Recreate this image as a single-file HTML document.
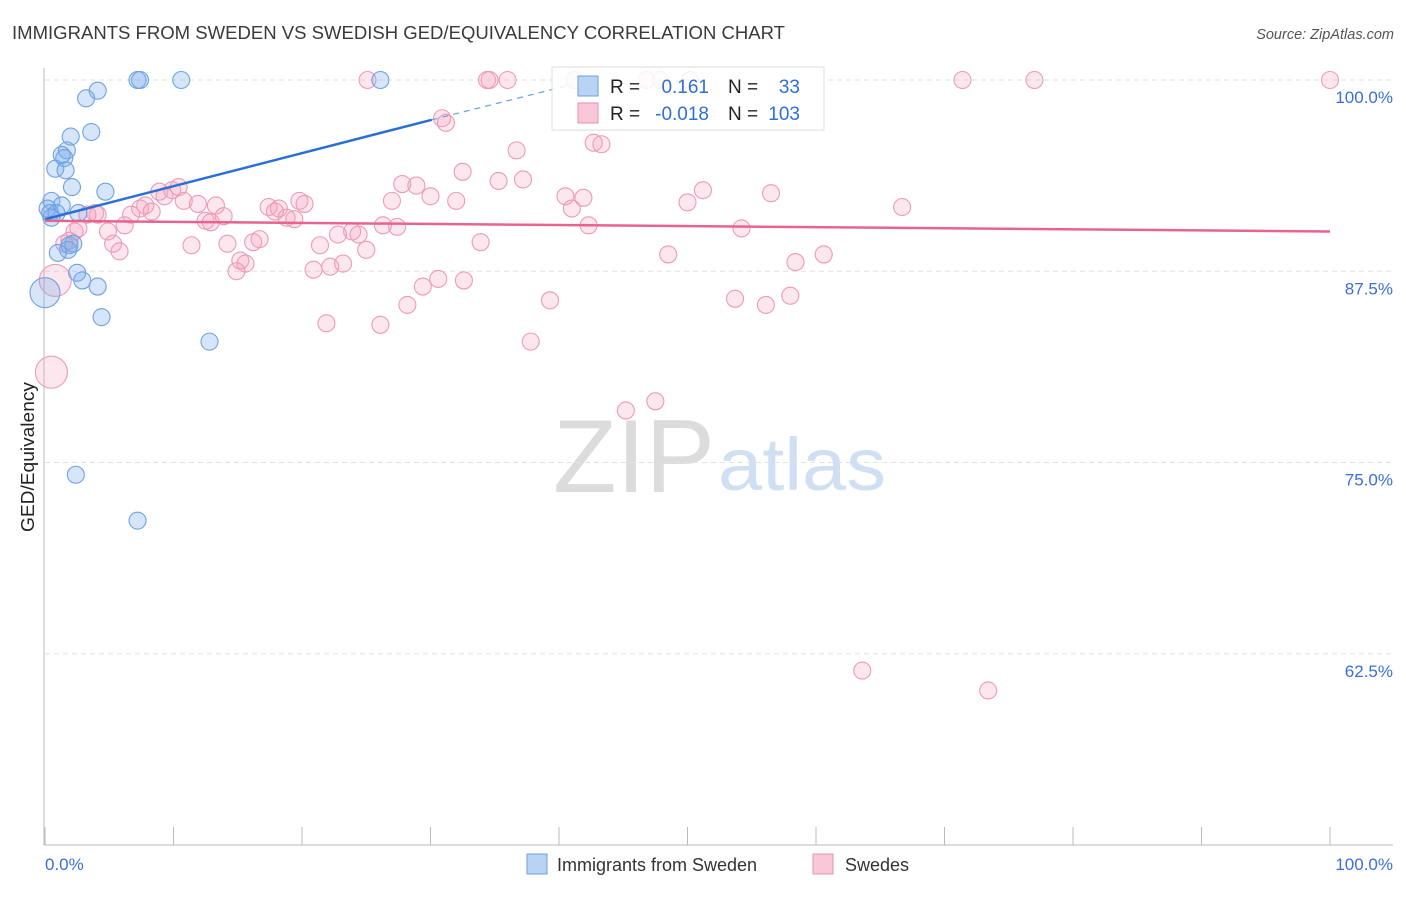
<!DOCTYPE html>
<html><head><meta charset="utf-8"><style>
body{margin:0;background:#fff;font-family:"Liberation Sans",sans-serif;}
svg text{font-family:"Liberation Sans",sans-serif;}
</style></head><body>
<svg id="chart" width="1406" height="892" viewBox="0 0 1406 892" xmlns="http://www.w3.org/2000/svg">
<text x="12" y="39" font-size="18.5" fill="#3a3a3a" textLength="773" lengthAdjust="spacingAndGlyphs">IMMIGRANTS FROM SWEDEN VS SWEDISH GED/EQUIVALENCY CORRELATION CHART</text>
<text x="1394" y="39" font-size="14.5" fill="#555" text-anchor="end" font-style="italic">Source: ZipAtlas.com</text>
<g>
<text x="553" y="492" font-size="104" fill="#dcdcdc" font-family="Liberation Serif,serif" textLength="162" lengthAdjust="spacingAndGlyphs">ZIP</text>
<text x="718" y="490" font-size="74" fill="#cfe0f3" textLength="168" lengthAdjust="spacingAndGlyphs">atlas</text>
</g>
<g id="grid"></g>
<g id="axes"></g>
<g id="pts"></g>
<g id="trend"></g>
<g>
<rect x="552" y="67" width="272" height="63" fill="#fff" fill-opacity="0.85" stroke="#ddd"/>
<rect x="578" y="76" width="20" height="20" fill="#b9d3f5" stroke="#6a9fe0"/>
<rect x="578" y="103" width="20" height="20" fill="#f9c8d8" stroke="#e890ab"/>
<text x="610" y="93" font-size="19" fill="#222">R =</text>
<text x="709" y="93" font-size="19" fill="#2f6fd8" text-anchor="end">0.161</text>
<text x="728" y="93" font-size="19" fill="#222">N =</text>
<text x="800" y="93" font-size="19" fill="#2f6fd8" text-anchor="end">33</text>
<text x="610" y="120" font-size="19" fill="#222">R =</text>
<text x="709" y="120" font-size="19" fill="#2f6fd8" text-anchor="end">-0.018</text>
<text x="728" y="120" font-size="19" fill="#222">N =</text>
<text x="800" y="120" font-size="19" fill="#2f6fd8" text-anchor="end">103</text>
</g>
<g>
<rect x="527" y="854" width="20" height="20" fill="#b9d3f5" stroke="#6a9fe0"/>
<text x="557" y="871" font-size="18" fill="#333">Immigrants from Sweden</text>
<rect x="813" y="854" width="20" height="20" fill="#f9c8d8" stroke="#e890ab"/>
<text x="845" y="871" font-size="18" fill="#333">Swedes</text>
</g>
<text transform="translate(34,457) rotate(-90)" font-size="18" fill="#222" text-anchor="middle" textLength="150" lengthAdjust="spacingAndGlyphs">GED/Equivalency</text>
</svg>
<script>
const yTicks=[100,87.5,75,62.5];
const yTickLabels=["100.0%","87.5%","75.0%","62.5%"];
const xTickLabels=["0.0%","100.0%"];
const blueX=[7.2,7.4,10.6,26.1,4.1,3.2,3.6,2.0,1.7,1.3,1.5,0.8,1.6,2.1,4.7,0.5,1.3,0.2,0.4,0.9,2.6,0.5,1.9,2.2,1.8,1.0,2.5,2.9,4.1,0.0,4.4,12.8,2.4,7.2];
const blueY=[100,100,100,100,99.3,98.8,96.6,96.3,95.4,95.1,94.9,94.2,94.1,93.0,92.7,92.1,91.8,91.6,91.3,91.3,91.3,91.0,89.2,89.3,88.9,88.7,87.4,86.9,86.5,86.1,84.5,82.9,74.2,71.2];
const blueBig=[29];
const pinkX=[25.1,34.4,34.6,36.0,41.2,46.8,47.9,50.2,71.4,77.0,100,30.9,31.2,36.7,42.7,43.3,32.5,35.3,37.2,27.8,28.9,30.0,32.0,27.0,40.5,41.9,41.0,42.3,51.2,50.0,56.5,66.7,8.9,9.3,9.9,10.4,10.8,7.8,7.4,8.3,6.7,3.9,3.3,4.1,6.2,4.9,2.6,2.3,11.9,13.3,12.5,12.9,13.9,17.4,18.2,17.9,18.8,19.4,19.8,20.2,26.3,27.4,23.9,24.4,22.8,21.4,25.0,33.9,14.2,16.2,16.7,11.4,5.3,5.8,1.9,1.5,15.2,15.6,14.9,20.9,22.2,23.2,30.6,32.6,29.4,28.2,21.9,26.1,39.3,37.8,48.5,54.2,53.7,56.1,58.0,58.4,60.6,45.2,47.5,63.6,73.4,0.8,0.5];
const pinkY=[100,100,100,100,100,100,100,100,100,100,100,97.5,97.2,95.4,95.9,95.8,94.0,93.4,93.5,93.2,93.1,92.4,92.1,92.1,92.4,92.3,91.6,90.5,92.8,92.0,92.6,91.7,92.7,92.4,92.8,93.0,92.1,91.8,91.6,91.4,91.2,91.3,91.2,91.2,90.5,90.1,90.3,90.1,91.9,91.8,90.8,90.7,91.1,91.7,91.6,91.4,91.0,90.9,92.1,91.9,90.5,90.4,90.1,89.9,89.9,89.2,88.9,89.4,89.3,89.4,89.6,89.2,89.3,88.8,89.5,89.3,88.2,88.0,87.5,87.6,87.8,88.0,87.0,86.9,86.5,85.3,84.1,84.0,85.6,82.9,88.6,90.3,85.7,85.3,85.9,88.1,88.6,78.4,79.0,61.4,60.1,86.9,80.9];
const pinkBig=[101,102];
const blueTrend=[[0,90.9],[30.1,97.4]];
const blueTrendDash=[[30.1,97.4],[41,99.7]];
const pinkTrend=[[0,90.8],[100,90.1]];
const NS="http://www.w3.org/2000/svg";
const X=v=>45+v*12.85, Y=v=>80+(100-v)*15.3;
function mk(t,a,p){const e=document.createElementNS(NS,t);for(const k in a)e.setAttribute(k,a[k]);p.appendChild(e);return e;}
const grid=document.getElementById('grid'),axes=document.getElementById('axes');
yTicks.forEach((t,i)=>{
 const l=mk('line',{x1:45,x2:1393,y1:Y(t),y2:Y(t),stroke:'#e2e2e2','stroke-dasharray':'5,4'},grid);
 
 
 const tx=mk('text',{x:1393,y:Y(t)+23,'font-size':17,fill:'#3b6fd8','text-anchor':'end'},axes);
 tx.textContent=yTickLabels[i];
 
 
});
mk('line',{x1:44,x2:44,y1:68,y2:845,stroke:'#bbb'},axes);
mk('line',{x1:44,x2:1393,y1:845,y2:845,stroke:'#bbb'},axes);
for(let i=0;i<=10;i++){const t=mk('line',{x1:X(i*10),x2:X(i*10),y1:827,y2:845,stroke:'#bbb'},axes);
 
 }
const x0=mk('text',{x:45,y:870,'font-size':17,fill:'#3b6fd8'},axes);x0.textContent=xTickLabels[0];


const x1=mk('text',{x:1393,y:870,'font-size':17,fill:'#3b6fd8','text-anchor':'end'},axes);x1.textContent=xTickLabels[1];


const pts=document.getElementById('pts');
pinkX.forEach((v,i)=>{const big=pinkBig.includes(i);
 const c=mk('circle',{cx:X(v),cy:Y(pinkY[i]),r:big?16:8.5,fill:'rgba(243,160,188,0.25)',stroke:'#ee9ab5','stroke-width':1.1},pts);
 
 });
blueX.forEach((v,i)=>{const big=blueBig.includes(i);
 const c=mk('circle',{cx:X(v),cy:Y(blueY[i]),r:big?15:8.5,fill:'rgba(120,170,235,0.3)',stroke:'#6fa2e2','stroke-width':1.1},pts);
 
 });
const tr=document.getElementById('trend');
const bl=mk('line',{x1:X(blueTrend[0][0]),y1:Y(blueTrend[0][1]),x2:X(blueTrend[1][0]),y2:Y(blueTrend[1][1]),stroke:'#2a6fd6','stroke-width':2.5},tr);


const bd=mk('line',{x1:X(blueTrendDash[0][0]),y1:Y(blueTrendDash[0][1]),x2:X(blueTrendDash[1][0]),y2:Y(blueTrendDash[1][1]),stroke:'#6a9fe0','stroke-width':1.2,'stroke-dasharray':'6,5'},tr);


const pl=mk('line',{x1:X(pinkTrend[0][0]),y1:Y(pinkTrend[0][1]),x2:X(pinkTrend[1][0]),y2:Y(pinkTrend[1][1]),stroke:'#e8648f','stroke-width':2.5},tr);


</script>
</body></html>
